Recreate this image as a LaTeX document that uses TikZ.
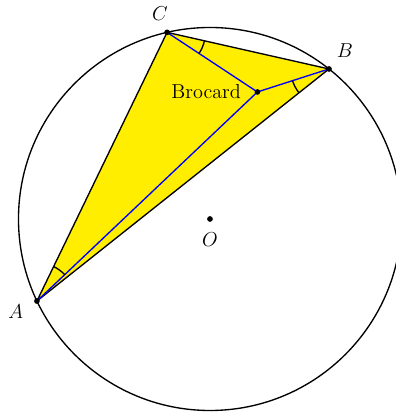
\documentclass[tikz,border=0pt]{standalone}
\usepackage{amsmath}
\usetikzlibrary{calc}
\definecolor{triyellow}{RGB}{255,238,0}

\begin{document}
\begin{tikzpicture}[
  circ/.style={line width=0.8pt,black},
  side/.style={line width=0.8pt,black},
  cevian/.style={line width=0.8pt,blue},
  anglemark/.style={line width=0.8pt,black},
  note/.style={font=\large}
]
  % Frame of the picture: the circle is cut at the right.
  \clip (-4.386,-4.094) rectangle (3.885,4.574);

  \coordinate (O) at (0,0);
  \coordinate (A) at (205.36:4);
  \coordinate (B) at (51.58:4);
  \coordinate (C) at (102.95:4);

  % Brocard point: each cevian turns the side by the same angle omega.
  \coordinate (A1) at ($(A)!1!-20.68:(C)$);
  \coordinate (C1) at ($(C)!1!-20.68:(B)$);
  \coordinate (Br) at (intersection of A--A1 and C--C1);

  % Triangle and circumcircle.
  \fill[triyellow] (A) -- (B) -- (C) -- cycle;
  \draw[circ] (O) circle (4);
  \draw[side] (A) -- (B) -- (C) -- cycle;

  % Cevians to the Brocard point.
  \draw[cevian] (A) -- (Br);
  \draw[cevian] (B) -- (Br);
  \draw[cevian] (C) -- (Br);

  % Equal angles omega.
  \draw[anglemark] ($(A)+(43.46:0.8)$) arc[start angle=43.46,end angle=64.14,radius=0.8];
  \draw[anglemark] ($(C)+(-33.41:0.8)$) arc[start angle=-33.41,end angle=-12.73,radius=0.8];
  \draw[anglemark] ($(B)+(197.78:0.8)$) arc[start angle=197.78,end angle=218.46,radius=0.8];

  % Points and labels.
  \foreach \p in {A,B,C,O,Br}
    \fill (\p) circle (1.7pt);
  \node[note] (labA) at ($(A)+(-0.44,-0.23)$) {$A$};
  \node[note] (labB) at ($(B)+(0.33,0.38)$) {$B$};
  \node[note] (labC) at ($(C)+(-0.15,0.4)$) {$C$};
  \node[note] (labO) at ($(O)+(0,-0.44)$) {$O$};
  \node[note,anchor=east] (labBr) at ($(Br)+(-0.22,0)$) {Brocard};
\end{tikzpicture}
\end{document}
